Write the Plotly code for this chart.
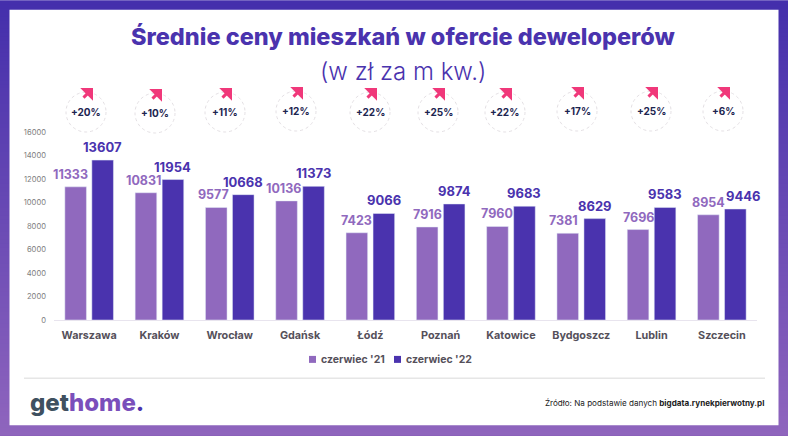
import plotly.graph_objects as go

cities = ['Warszawa', 'Kraków', 'Wrocław', 'Gdańsk', 'Łódź', 'Poznań', 'Katowice', 'Bydgoszcz', 'Lublin', 'Szczecin']
june_21 = [11333, 10831, 9577, 10136, 7423, 7916, 7960, 7381, 7696, 8954]
june_22 = [13607, 11954, 10668, 11373, 9066, 9874, 9683, 8629, 9583, 9446]
changes = ['+20%', '+10%', '+11%', '+12%', '+22%', '+25%', '+22%', '+17%', '+25%', '+6%']
legend_names = ["czerwiec '21", "czerwiec '22"]
y_ticks = [0, 2000, 4000, 6000, 8000, 10000, 12000, 14000, 16000]

W, H = 788, 436
LEFT, RIGHT, TOP, BOTTOM = 54, 757, 132, 320.5
LIGHT = '#9069BE'
DARK = '#4A33AE'
FONT = 'Inter'
TEXT_GREY = '#55505A'

# hand placed in the original, so pixels
badge_px = [86, 155, 225, 296, 370, 438, 505, 577, 651, 723]
badge_py = [112, 113, 112, 111, 112, 112, 112, 111, 111, 111]
shift_21 = [-18.5, -15.5, -16.5, -16.5, -13.5, -13.5, -13.5, -18, -13.5, -13.5]
shift_22 = [13.5, 13.5, 13.5, 13.5, 13.5, 13.5, 13.5, 13.5, 13.5, 21.5]
legend_px = [309, 394]


# paper coords are relative to the plot area
def px(x):
    return (x - LEFT) / (RIGHT - LEFT)


def py(y):
    return (BOTTOM - y) / (BOTTOM - TOP)


def mix(t):
    # frame gradient, top to bottom
    a = (68, 47, 172)
    b = (144, 102, 190)
    return 'rgb(%d,%d,%d)' % tuple(a[i] + (b[i] - a[i]) * t for i in range(3))


def paper_text(text, x, y, size, color, xanchor='center', **font):
    return dict(text=text, xref='paper', yref='paper', x=px(x), y=py(y), xanchor=xanchor, yanchor='middle',
                showarrow=False, font=dict(family=FONT, size=size, color=color, **font))


def paper_rect(x0, x1, y0, y1, color):
    return dict(type='rect', xref='paper', yref='paper', x0=px(x0), x1=px(x1), y0=py(y0), y1=py(y1),
                fillcolor=color, line_width=0, layer='below')


shapes = []
# every strip runs to the bottom edge so no seams show between them
for i in range(0, H, 4):
    shapes.append(paper_rect(0, W, i, H, mix(i / H)))
shapes.append(paper_rect(9.5, 778.5, 9.5, 426, 'white'))
shapes.append(dict(type='line', xref='paper', yref='paper', x0=px(24), x1=px(765), y0=py(379), y1=py(379),
                   line=dict(color='#E6E6E6', width=1.5), layer='below'))
for x, y in zip(badge_px, badge_py):
    shapes.append(dict(type='circle', xref='paper', yref='paper', x0=px(x - 20), x1=px(x + 20), y0=py(y - 20), y1=py(y + 20),
                       line=dict(color='#E4E0E4', width=1, dash='3px,3px'), layer='below'))
for x, color in zip(legend_px, [LIGHT, DARK]):
    shapes.append(paper_rect(x, x + 7, 356.5, 363.5, color))

fig = go.Figure(
    data=[
        go.Bar(x=cities, y=june_21, name=legend_names[0], marker_color=LIGHT),
        go.Bar(x=cities, y=june_22, name=legend_names[1], marker_color=DARK),
    ]
)

annotations = [
    paper_text('Średnie ceny mieszkań w ofercie deweloperów', 403, 36, 23.5, DARK, weight=800),
    paper_text('(w zł za m kw.)', 402.5, 71, 24, DARK, weight=300),
    paper_text('get<span style="color:#7A4FBB">home</span><span style="color:%s">.</span>' % DARK,
               28, 403, 24, '#3F5060', xanchor='left', weight=800),
    paper_text('Źródło: Na podstawie danych <b>bigdata.rynekpierwotny.pl</b>', 766, 404, 8.1, '#222222', xanchor='right'),
]
for x, name in zip(legend_px, legend_names):
    annotations.append(paper_text('<b>%s</b>' % name, x + 10, 360, 10.5, TEXT_GREY, xanchor='left'))

for k, city in enumerate(cities):
    annotations.append(dict(text='<b>%d</b>' % june_21[k], x=city, y=june_21[k], yanchor='bottom', xshift=shift_21[k], yshift=3,
                            showarrow=False, font=dict(family=FONT, size=12.5, color=LIGHT)))
    annotations.append(dict(text='<b>%d</b>' % june_22[k], x=city, y=june_22[k], yanchor='bottom', xshift=shift_22[k], yshift=3,
                            showarrow=False, font=dict(family=FONT, size=13, color=DARK)))
    annotations.append(paper_text('<b>%s</b>' % changes[k], badge_px[k], badge_py[k], 10, '#1C2550'))
    annotations.append(dict(text='', xref='paper', yref='paper',
                            x=px(badge_px[k] + 7), y=py(badge_py[k] - 24),
                            ax=-11, ay=11,
                            showarrow=True, arrowhead=1, arrowsize=1, arrowwidth=3, arrowcolor='#F0387A'))

fig.update_layout(
    width=W,
    height=H,
    margin=dict(l=LEFT, r=W - RIGHT, t=TOP, b=H - BOTTOM),
    paper_bgcolor='white',
    plot_bgcolor='rgba(0,0,0,0)',
    barmode='group',
    bargap=0.232,
    bargroupgap=0.2,
    shapes=shapes,
    annotations=annotations,
    showlegend=False,
    # fixed range: the shifted labels would otherwise widen the autorange
    xaxis=dict(range=[-0.5, 9.5], tickfont=dict(family=FONT, size=10.8, color=TEXT_GREY, weight=700), showgrid=False, ticks='',
               showline=True, linecolor='#E8E4EE', linewidth=1, ticklabelstandoff=5),
    yaxis=dict(range=[0, 16000], tickvals=y_ticks, tickformat='d', tickfont=dict(family=FONT, size=7.6, color='#808080'),
               showgrid=False, zeroline=False, ticks='', ticklabelstandoff=7),
)

fig.write_html('out.html', config=dict(displayModeBar=False), post_script="document.body.style.margin='0';")
